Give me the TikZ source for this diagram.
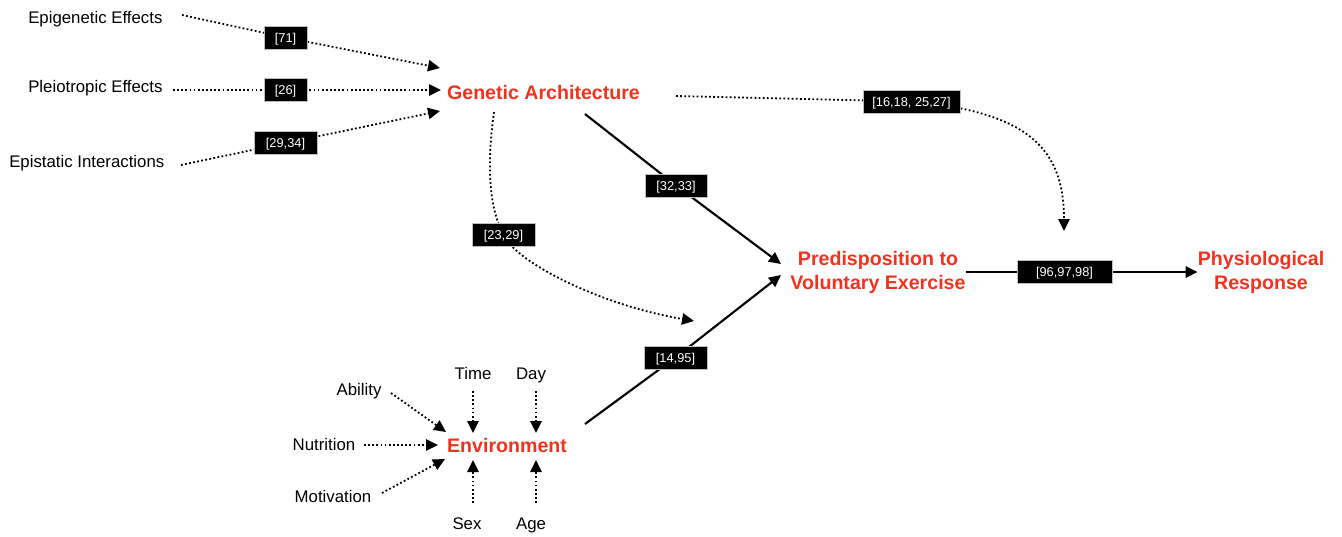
\documentclass[tikz,border=0pt]{standalone}
\usepackage{fontspec}
\setmainfont{Liberation Sans}
\usetikzlibrary{arrows.meta}
\definecolor{gred}{RGB}{240,50,30}
\pgfdeclarelayer{bg}
\pgfsetlayers{bg,main}
\begin{document}
\begin{tikzpicture}[x=0.75pt,y=-0.75pt,
  lbl/.style={font=\fontsize{12.6}{15}\selectfont, inner sep=0pt, anchor=base},
  key/.style={font=\fontsize{14.7}{18}\selectfont\bfseries, text=gred, inner sep=0pt, align=center},
  ref/.style={fill=black, draw=gray!50, line width=0.4pt, text=white, font=\fontsize{9.6}{11}\selectfont, inner sep=0pt, minimum height=17pt, text height=6.9pt, text depth=0pt},
  dotline/.style={line width=1.35pt, dash pattern=on 1.35pt off 1.75pt},
  solidline/.style={line width=1.6pt},
  tip/.style={-{Triangle[length=9pt,width=8.5pt]}}
]
\useasboundingbox (0,0) rectangle (1342,536);

% text nodes
\node[lbl, anchor=base west] (epi) at (28,23) {Epigenetic Effects};
\node[lbl, anchor=base west] (plei) at (28,92) {Pleiotropic Effects};
\node[lbl, anchor=base west] (epis) at (9,167) {Epistatic Interactions};
\node[key, anchor=base] (gen) at (543.5,99) {Genetic Architecture};
\node[key] (pred) at (878,272) {Predisposition to\\Voluntary Exercise};
\node[key] (phys) at (1261,272) {Physiological\\Response};
\node[key, anchor=base] (env) at (507,452) {Environment};
\node[lbl] (time) at (473,379) {Time};
\node[lbl] (day) at (531,379) {Day};
\node[lbl] (sex) at (467,529) {Sex};
\node[lbl] (age) at (531,529) {Age};
\node[lbl] (abil) at (359,395) {Ability};
\node[lbl] (nutr) at (324,450) {Nutrition};
\node[lbl] (moti) at (333,502) {Motivation};

% reference boxes
\node[ref, minimum width=32pt] (r71) at (285.5,37.5) {[71]};
\node[ref, minimum width=32pt] (r26) at (285.5,90) {[26]};
\node[ref, minimum width=47pt] (r2934) at (285.5,143) {[29,34]};
\node[ref, minimum width=73pt] (r1618) at (911.5,101.5) {[16,18, 25,27]};
\node[ref, minimum width=46.5pt] (r3233) at (676,185.5) {[32,33]};
\node[ref, minimum width=47pt] (r2329) at (503.5,234.5) {[23,29]};
\node[ref, minimum width=47pt] (r1495) at (675.5,357.5) {[14,95]};
\node[ref, minimum width=71pt] (r9698) at (1064.5,272) {[96,97,98]};

% connector end points
\coordinate (s1) at (182,15);  \coordinate (t1) at (440,68);
\coordinate (s2) at (173,90);  \coordinate (t2) at (441,90);
\coordinate (s3) at (181,165); \coordinate (t3) at (440,111);
\coordinate (s4) at (676,96);  \coordinate (t4) at (1064,231);
\coordinate (s5) at (494,112); \coordinate (t5) at (694,321);
\coordinate (s6) at (585,114); \coordinate (t6) at (781,264);
\coordinate (s7) at (585,424); \coordinate (t7) at (781,275);
\coordinate (a1) at (391,393); \coordinate (a2) at (446,432);
\coordinate (n1) at (364,445); \coordinate (n2) at (438,445);
\coordinate (m1) at (382,493); \coordinate (m2) at (445,459);
\coordinate (ti1) at (473,391); \coordinate (ti2) at (473,433);
\coordinate (d1) at (536,391); \coordinate (d2) at (536,433);
\coordinate (se1) at (473,503); \coordinate (se2) at (473,460);
\coordinate (ag1) at (536,503); \coordinate (ag2) at (536,460);

\begin{pgfonlayer}{bg}
\draw[dotline,tip] (s1) -- (r71.center) -- (t1);
\draw[dotline,tip] (s2) -- (r26.center) -- (t2);
\draw[dotline,tip] (s3) -- (r2934.center) -- (t3);
\draw[dotline,tip] (s4) -- (r1618.center) .. controls (1030,112) and (1064,150) .. (t4);
\draw[dotline,tip] (s5) .. controls (486,170) and (490,210) .. (r2329.center) .. controls (515,262) and (600,305) .. (t5);
\draw[solidline,tip] (s6) -- (r3233.center) -- (t6);
\draw[solidline,tip] (s7) -- (r1495.center) -- (t7);
\draw[solidline,tip] (pred.east) -- (r9698.center) -- (phys.west);
\end{pgfonlayer}

\draw[dotline,tip] (a1) -- (a2);
\draw[dotline,tip] (n1) -- (n2);
\draw[dotline,tip] (m1) -- (m2);
\draw[dotline,tip] (ti1) -- (ti2);
\draw[dotline,tip] (d1) -- (d2);
\draw[dotline,tip] (se1) -- (se2);
\draw[dotline,tip] (ag1) -- (ag2);
\end{tikzpicture}
\end{document}
